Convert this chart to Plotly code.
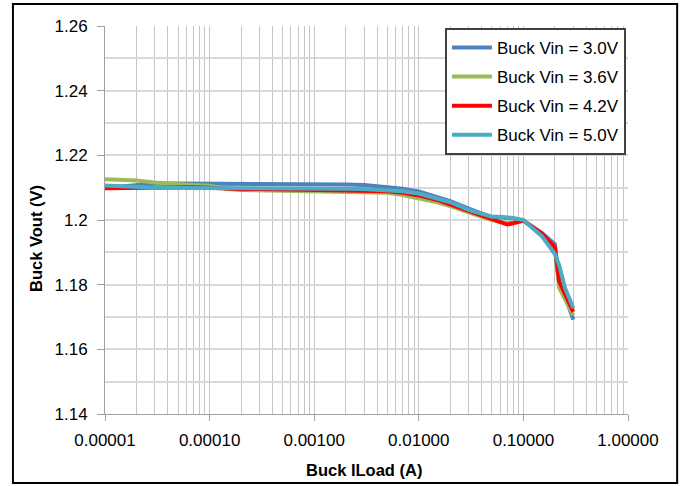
import plotly.graph_objects as go

# ---- data ----
iload = [1e-5, 2e-5, 3e-5, 5e-5, 7e-5, 1e-4, 1.5e-4, 2e-4, 3e-4, 5e-4, 7e-4,
         1e-3, 2e-3, 3e-3, 5e-3, 7e-3, 1e-2, 1.5e-2, 2e-2, 3e-2, 4e-2, 5e-2,
         6e-2, 7e-2, 8e-2, 1e-1, 1.5e-1, 2e-1, 2.2e-1, 2.5e-1, 3e-1]

vout_30 = [1.2099, 1.2108, 1.2113, 1.2113, 1.2113, 1.2112, 1.2112, 1.2111, 1.2112, 1.2111, 1.2111,
           1.2111, 1.2110, 1.2108, 1.2103, 1.2097, 1.2088, 1.2072, 1.2058, 1.2035, 1.2020, 1.2008,
           1.2008, 1.2007, 1.2005, 1.1998, 1.1960, 1.1925, 1.1800, 1.1765, 1.1692]
vout_36 = [1.2126, 1.2122, 1.2116, 1.2110, 1.2108, 1.2106, 1.2096, 1.2093, 1.2092, 1.2090, 1.2090,
           1.2090, 1.2089, 1.2088, 1.2084, 1.2077, 1.2067, 1.2055, 1.2043, 1.2022, 1.2010, 1.2000,
           1.1994, 1.1990, 1.1993, 1.1998, 1.1955, 1.1910, 1.1790, 1.1755, 1.1705]
vout_42 = [1.2098, 1.2100, 1.2101, 1.2101, 1.2101, 1.2100, 1.2097, 1.2095, 1.2096, 1.2095, 1.2094,
           1.2094, 1.2093, 1.2092, 1.2089, 1.2084, 1.2076, 1.2062, 1.2048, 1.2025, 1.2012, 1.2003,
           1.1992, 1.1986, 1.1990, 1.1998, 1.1958, 1.1915, 1.1810, 1.1770, 1.1716]
vout_50 = [1.2107, 1.2102, 1.2100, 1.2099, 1.2099, 1.2100, 1.2099, 1.2098, 1.2099, 1.2098, 1.2098,
           1.2098, 1.2097, 1.2096, 1.2093, 1.2089, 1.2082, 1.2068, 1.2055, 1.2031, 1.2018, 1.2010,
           1.2010, 1.2009, 1.2006, 1.2000, 1.1950, 1.1895, 1.1860, 1.1790, 1.1728]

series_names = ["Buck Vin = 3.0V", "Buck Vin = 3.6V", "Buck Vin = 4.2V", "Buck Vin = 5.0V"]
series_vals = [vout_30, vout_36, vout_42, vout_50]
series_colors = ["#4F81BD", "#9BBB59", "#FF0000", "#4BACC6"]

x_tickvals = [1e-5, 1e-4, 1e-3, 1e-2, 1e-1, 1]
x_ticktext = ["0.00001", "0.00010", "0.00100", "0.01000", "0.10000", "1.00000"]
y_tickvals = [1.14, 1.16, 1.18, 1.20, 1.22, 1.24, 1.26]
y_ticktext = ["1.14", "1.16", "1.18", "1.2", "1.22", "1.24", "1.26"]

FONT = "Liberation Sans"

fig = go.Figure()
for i, (name, vals, col) in enumerate(zip(series_names, series_vals, series_colors)):
    fig.add_trace(go.Scatter(x=iload, y=vals, mode="lines", name=name,
                             legendgroup=f"g{i}",
                             line=dict(color=col, width=4)))

fig.update_layout(
    width=683, height=486,
    margin=dict(l=105, r=55, t=26, b=72),
    paper_bgcolor="white", plot_bgcolor="white",
    font=dict(family=FONT, color="#000000"),
    showlegend=True,
    legend=dict(x=0.650, y=0.995, xanchor="left", yanchor="top",
                bgcolor="white", bordercolor="#404040", borderwidth=2,
                font=dict(size=17, family=FONT, color="#000000"),
                itemwidth=40, tracegroupgap=4),
    xaxis=dict(type="log", range=[-5, 0],
               tickvals=x_tickvals, ticktext=x_ticktext,
               tickfont=dict(size=17, family=FONT, color="#000000"),
               ticklabelstandoff=5,
               showgrid=True, gridcolor="#c4c4c4", gridwidth=1,
               minor=dict(dtick="D1", showgrid=True, gridcolor="#c4c4c4", gridwidth=1, ticks=""),
               showline=True, linecolor="#a0a0a0", linewidth=1,
               ticks="outside", ticklen=6, tickcolor="#a0a0a0",
               zeroline=False),
    yaxis=dict(range=[1.14, 1.26],
               tickvals=y_tickvals, ticktext=y_ticktext,
               tickfont=dict(size=17, family=FONT, color="#000000"),
               ticklabelstandoff=6,
               showgrid=True, gridcolor="#d9d9d9", gridwidth=2,
               minor=dict(dtick=0.01, tick0=1.14, showgrid=True, gridcolor="#d9d9d9", gridwidth=2, ticks=""),
               showline=True, linecolor="#a0a0a0", linewidth=1,
               ticks="outside", ticklen=7, tickcolor="#a0a0a0",
               zeroline=False),
    annotations=[
        dict(text="<b>Buck Vout (V)</b>", xref="paper", yref="paper",
             x=-0.132, y=0.4536, textangle=-90, showarrow=False,
             font=dict(size=16.5, family=FONT, color="#000000"),
             xanchor="center", yanchor="middle"),
        dict(text="<b>Buck ILoad (A)</b>", xref="paper", yref="paper",
             x=0.495, y=-0.144, showarrow=False,
             font=dict(size=16.5, family=FONT, color="#000000"),
             xanchor="center", yanchor="middle"),
    ],
    shapes=[dict(type="rect", xref="paper", yref="paper",
                 x0=-0.176, x1=1.094, y0=-0.178, y1=1.057,
                 line=dict(color="#000000", width=2), fillcolor="rgba(0,0,0,0)")],
)

fig.write_html("out.html")
